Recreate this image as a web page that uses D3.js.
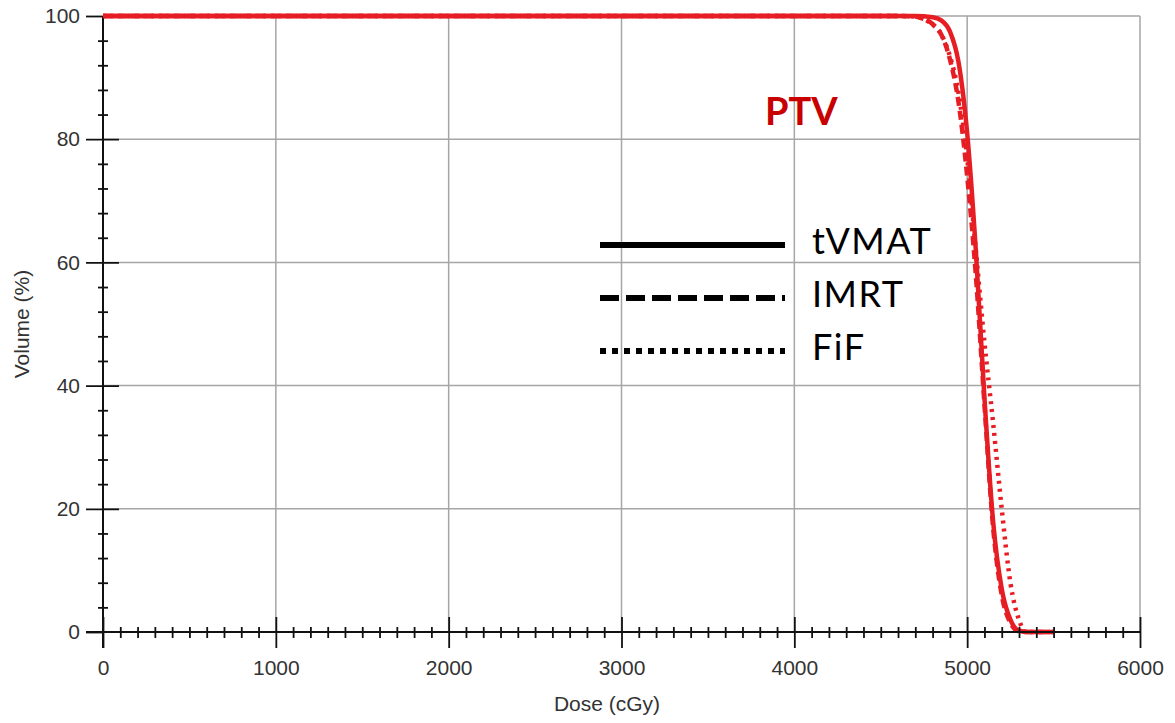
<!DOCTYPE html>
<html>
<head>
<meta charset="utf-8">
<script src="https://cdn.jsdelivr.net/npm/d3@7"></script>
<style>
  body { margin: 0; background: #fff; }
  text { font-family: "Liberation Sans", Arial, sans-serif; }
</style>
</head>
<body>
<div id="chart"></div>
<script>
var width = 1175
var height = 723

// dose points (cGy) and volume (%) for each plan
var tvmatDose = [0, 4600, 4700, 4800, 4850, 4900, 4950, 5000, 5050, 5100, 5150, 5200, 5250, 5300, 5350, 5500];
var tvmatVol  = [100, 100, 100, 99.8, 99.3, 97.5, 92.5, 81, 62, 38, 18, 7, 2, 0.2, 0, 0];

var imrtDose = [0, 4600, 4700, 4750, 4800, 4850, 4900, 4950, 5000, 5050, 5100, 5150, 5200, 5250, 5300, 5350, 5500];
var imrtVol  = [100, 100, 99.9, 99.5, 98.7, 97, 93, 86, 74, 58, 37, 17, 6, 1.5, 0.1, 0, 0];

var fifDose = [0, 4600, 4700, 4750, 4800, 4850, 4900, 4950, 5000, 5050, 5100, 5150, 5200, 5250, 5300, 5340, 5500];
var fifVol  = [100, 100, 99.9, 99.5, 98.6, 97, 93.5, 87.5, 77, 62, 47, 34, 20, 8, 2, 0, 0];

var xTicks = [0, 1000, 2000, 3000, 4000, 5000, 6000];
var yTicks = [0, 20, 40, 60, 80, 100];

var legendNames = ['tVMAT', 'IMRT', 'FiF'];

var red = '#e61e24';

var svg = d3.select('#chart')
            .append('svg')
            .attr('width', width)
            .attr('height', height);

var x = d3.scaleLinear().domain([0, 6000]).range([103, 1140]);
var y = d3.scaleLinear().domain([0, 100]).range([632, 16]);

//////////////// grid ////////////////
svg.append('g').selectAll('line')
   .data(xTicks.slice(1))
   .enter().append('line')
   .attr('x1', function(d){ return x(d); })
   .attr('x2', function(d){ return x(d); })
   .attr('y1', y(0))
   .attr('y2', y(100))
   .style('stroke', '#a6a6a6')
   .style('stroke-width', 1.5);

svg.append('g').selectAll('line')
   .data(yTicks.slice(1))
   .enter().append('line')
   .attr('x1', x(0))
   .attr('x2', x(6000))
   .attr('y1', function(d){ return y(d); })
   .attr('y2', function(d){ return y(d); })
   .style('stroke', '#a6a6a6')
   .style('stroke-width', 1.5);

//////////////// curves ////////////////
function makeData(dose, vol){
    return dose.map(function(d, i){ return { dose: d, vol: vol[i] }; });
}

var line = d3.line()
             .x(function(d){ return x(d.dose); })
             .y(function(d){ return y(d.vol); })
             .curve(d3.curveMonotoneX);

var series = [
    { name: 'FiF', data: makeData(fifDose, fifVol), dash: '3,5' },
    { name: 'IMRT', data: makeData(imrtDose, imrtVol), dash: '9,5' },
    { name: 'tVMAT', data: makeData(tvmatDose, tvmatVol), dash: null }
];

svg.append('g').selectAll('path')
   .data(series)
   .enter().append('path')
   .attr('d', function(d){ return line(d.data); })
   .style('fill', 'none')
   .style('stroke', red)
   .style('stroke-width', 4.5)
   .style('stroke-dasharray', function(d){ return d.dash; });

//////////////// axes ////////////////
var xAxis = svg.append('g')
               .attr('transform', 'translate(0,' + y(0) + ')')
               .call(d3.axisBottom(x).tickValues(xTicks).tickFormat(d3.format('d'))
                       .tickSize(16).tickPadding(12));

var xMinor = svg.append('g')
               .attr('transform', 'translate(0,' + y(0) + ')')
               .call(d3.axisBottom(x)
                       .tickValues(d3.range(100, 6000, 100).filter(function(d){ return d % 1000 != 0; }))
                       .tickSize(6).tickFormat(''));

var yAxis = svg.append('g')
               .attr('transform', 'translate(' + x(0) + ',0)')
               .call(d3.axisLeft(y).tickValues(yTicks).tickFormat(d3.format('d'))
                       .tickSize(17).tickPadding(6));

var yMinor = svg.append('g')
               .attr('transform', 'translate(' + x(0) + ',0)')
               .call(d3.axisLeft(y)
                       .tickValues(d3.range(4, 100, 4).filter(function(d){ return d % 20 != 0; }))
                       .tickSize(5).tickFormat(''));

[xAxis, xMinor, yAxis, yMinor].forEach(function(a){
    a.select('.domain').remove();
    a.selectAll('line').style('stroke', '#111').style('stroke-width', 1.8);
    a.selectAll('text')
     .style('font-family', '"Liberation Sans", Arial, sans-serif')
     .style('font-size', '21px')
     .style('fill', '#333');
});

xAxis.selectAll('line').attr('y1', -15);
xMinor.selectAll('line').attr('y1', -5);
yAxis.selectAll('line').filter(function(d){ return d > 0 && d < 100; }).attr('x1', 16);
yMinor.selectAll('line').attr('x1', 5);

// axis lines
svg.append('line')
   .attr('x1', 86).attr('x2', x(6000))
   .attr('y1', y(0)).attr('y2', y(0))
   .style('stroke', '#111').style('stroke-width', 2);

svg.append('line')
   .attr('x1', x(0)).attr('x2', x(0))
   .attr('y1', y(100)).attr('y2', 648)
   .style('stroke', '#111').style('stroke-width', 2);

// redraw the 100% level on top of the axis
svg.append('line')
   .attr('x1', x(0)).attr('x2', x(4600))
   .attr('y1', y(100)).attr('y2', y(100))
   .style('stroke', red).style('stroke-width', 4.5);

svg.append('text')
   .attr('x', 607)
   .attr('y', 711)
   .attr('text-anchor', 'middle')
   .style('font-size', '21px')
   .style('fill', '#333')
   .text('Dose (cGy)');

svg.append('text')
   .attr('transform', 'translate(29,324) rotate(-90)')
   .attr('text-anchor', 'middle')
   .style('font-size', '21px')
   .style('fill', '#333')
   .text('Volume (%)');

//////////////// labels ////////////////
svg.append('text')
   .attr('x', 765)
   .attr('y', 125)
   .style('font-family', 'Lato, "Open Sans", sans-serif')
   .style('font-weight', 'bold')
   .style('font-size', '38px')
   .style('fill', '#c80000')
   .text('PTV');

var legendDash = [null, '19,7', '6,6'];
var legend = svg.append('g').selectAll('g')
                .data(legendNames)
                .enter().append('g')
                .attr('transform', function(d, i){ return 'translate(0,' + (245 + i * 53) + ')'; });

legend.append('line')
      .attr('x1', 600).attr('x2', 785)
      .attr('y1', 0).attr('y2', 0)
      .style('stroke', '#000')
      .style('stroke-width', 6)
      .style('stroke-dasharray', function(d, i){ return legendDash[i]; });

legend.append('text')
      .attr('x', 812)
      .attr('y', 9)
      .style('font-family', 'Lato, "Open Sans", sans-serif')
      .style('font-size', '36px')
      .style('letter-spacing', '1.5px')
      .style('fill', '#000')
      .text(function(d){ return d; });
</script>
</body>
</html>
